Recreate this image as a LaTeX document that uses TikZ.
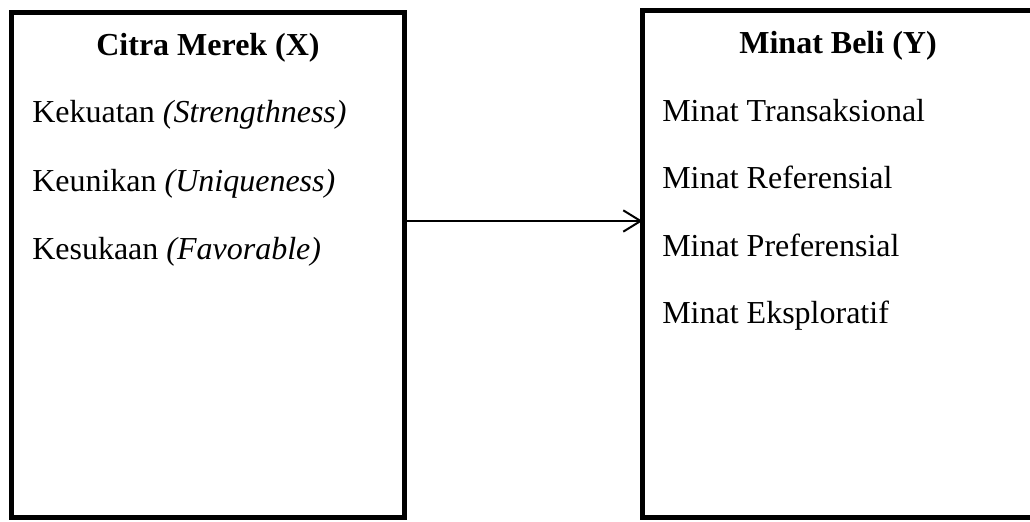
\documentclass[tikz,border=0pt]{standalone}
\usepackage{fontspec}
\setmainfont{Liberation Serif}
\usetikzlibrary{positioning,arrows.meta}

\begin{document}
\begin{tikzpicture}[x=0.75pt,y=-0.75pt,
  font=\fontsize{24pt}{28pt}\selectfont,
  varbox/.style={draw, line width=3.75pt, rectangle, inner sep=0pt, outer sep=0pt, anchor=north west},
  vartitle/.style={anchor=base, inner sep=0pt, font=\fontsize{24pt}{28pt}\selectfont\bfseries},
  indicator/.style={anchor=base west, inner sep=0pt}]
  \useasboundingbox (0,0) rectangle (1030,521);
  % variable boxes
  \node[varbox, minimum width=294.75pt, minimum height=379.1pt] (citra) at (11.5,12.5) {};
  \node[varbox, minimum width=293.25pt, minimum height=380.25pt] (minat) at (642.5,10.5) {};
  % titles
  \node[vartitle] (citratitle) at (208,55) {Citra Merek (X)};
  \node[vartitle] (minattitle) at (838,53) {Minat Beli (Y)};
  % indicators X
  \node[indicator] (kekuatan) at (32,122.5) {Kekuatan \textit{(Strengthness)}};
  \node[indicator] (keunikan) at (32,191) {Keunikan \textit{(Uniqueness)}};
  \node[indicator] (kesukaan) at (32,259.5) {Kesukaan \textit{(Favorable)}};
  % indicators Y
  \node[indicator] (transaksional) at (662,121.5) {Minat Transaksional};
  \node[indicator] (referensial) at (662,188) {Minat Referensial};
  \node[indicator] (preferensial) at (662,256) {Minat Preferensial};
  \node[indicator] (eksploratif) at (662,323) {Minat Eksploratif};
  % relation
  \coordinate (rel) at (0,221);
  \draw[-{Straight Barb[length=13pt,width=16pt]}, line width=1.5pt] (citra.east |- rel) -- (minat.west |- rel);
\end{tikzpicture}
\end{document}
